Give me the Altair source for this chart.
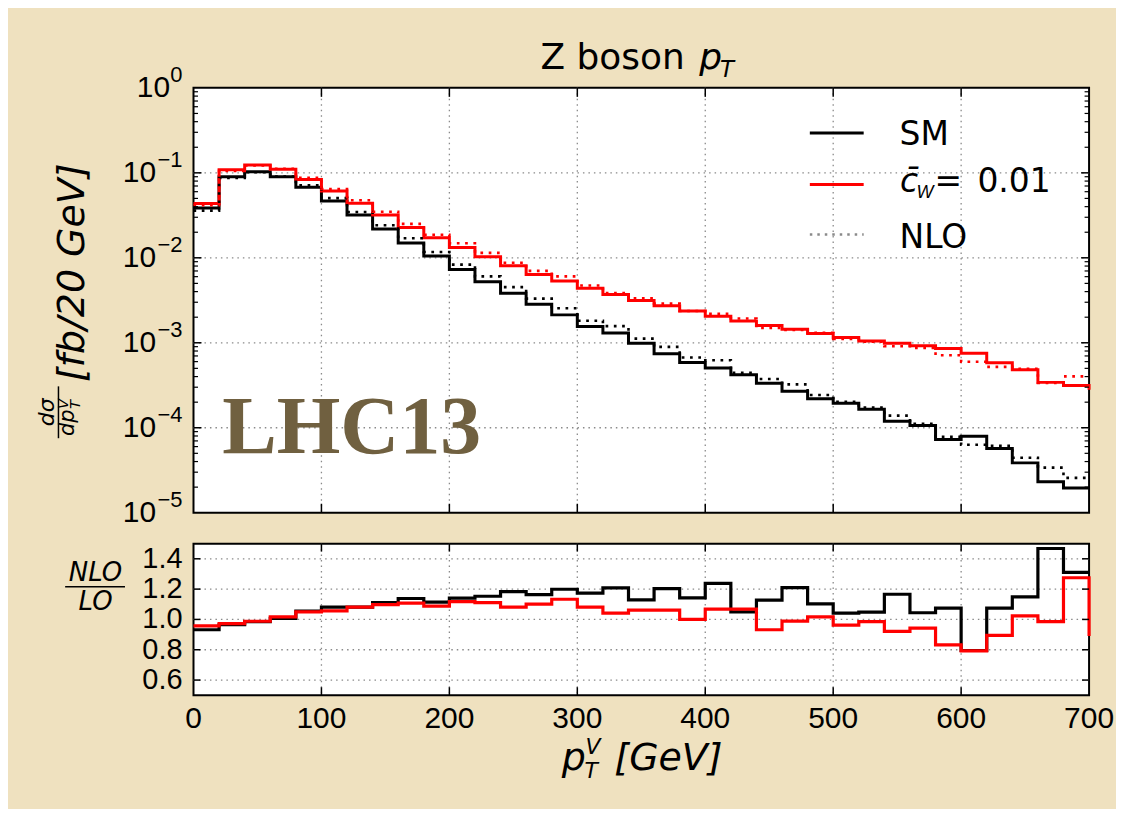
import altair as alt
import pandas as pd

BG = "#efe1bf"
RED = "#ff0000"
GRID = "#8a8a8a"

# bin edges (20 GeV bins, 0-700 GeV)
edges = list(range(0, 720, 20))
x_tick_vals = [0, 100, 200, 300, 400, 500, 600, 700]
x_tick_labels = ["0", "100", "200", "300", "400", "500", "600", "700"]
x_inner_ticks = [100, 200, 300, 400, 500, 600]
decades = [1, 0.1, 0.01, 0.001, 0.0001, 0.00001]
decade_exps = ["0", "\u22121", "\u22122", "\u22123", "\u22124", "\u22125"]
minor_vals = [k * 10.0 ** e for e in range(-5, 0) for k in range(2, 10)]
ratio_ticks = [0.6, 0.8, 1.0, 1.2, 1.4]
ratio_tick_labels = ["0.6", "0.8", "1.0", "1.2", "1.4"]

# dsigma/dpT [fb/20 GeV], LO
sm_lo = [0.0385, 0.090, 0.103, 0.090, 0.0675, 0.0466, 0.0320, 0.0218, 0.0149, 0.0105,
         0.0073, 0.00524, 0.00382, 0.00284, 0.00213, 0.00155, 0.00130, 0.00099, 0.000743, 0.000587,
         0.000504, 0.000421, 0.000333, 0.000268, 0.000220, 0.000194, 0.000165, 0.000119, 0.000106, 0.0000726,
         0.0000794, 0.0000570, 0.0000386, 0.0000231, 0.0000196]
cw_lo = [0.0435, 0.1085, 0.1235, 0.110, 0.0835, 0.0611, 0.0440, 0.0318, 0.0227, 0.0172,
         0.01325, 0.0103, 0.00808, 0.00638, 0.00533, 0.00437, 0.00369, 0.00315, 0.00272, 0.00237,
         0.00205, 0.00181, 0.00160, 0.00144, 0.00129, 0.00115, 0.00105, 0.00099, 0.00092, 0.000857,
         0.000755, 0.000582, 0.000482, 0.000342, 0.000315]
cw_lo_edge = 0.00028
# NLO
sm_nlo = [0.0359, 0.0869, 0.1015, 0.0906, 0.0712, 0.0504, 0.0346, 0.0242, 0.01696, 0.0117,
          0.00832, 0.00604, 0.00452, 0.00331, 0.00255, 0.00182, 0.00157, 0.00112, 0.000894, 0.000670,
          0.000624, 0.000442, 0.000375, 0.000324, 0.000243, 0.000202, 0.000173, 0.000139, 0.000111, 0.0000780,
          0.0000631, 0.0000612, 0.0000444, 0.0000339, 0.0000257]
cw_nlo = [0.0417, 0.1055, 0.1220, 0.1119, 0.0877, 0.0646, 0.0476, 0.0349, 0.0251, 0.0187,
          0.01481, 0.01144, 0.00873, 0.00702, 0.00604, 0.00472, 0.00385, 0.00334, 0.00289, 0.00237,
          0.00219, 0.00193, 0.00149, 0.00142, 0.00131, 0.00111, 0.00103, 0.000912, 0.000868, 0.000713,
          0.000598, 0.000521, 0.000494, 0.000337, 0.000402]
# NLO / LO
ratio_sm = [0.932, 0.965, 0.985, 1.007, 1.055, 1.081, 1.081, 1.111, 1.138, 1.114,
            1.140, 1.153, 1.184, 1.164, 1.199, 1.173, 1.208, 1.129, 1.203, 1.142,
            1.238, 1.050, 1.127, 1.210, 1.103, 1.041, 1.048, 1.166, 1.044, 1.074,
            0.795, 1.074, 1.149, 1.468, 1.310]
ratio_cw = [0.958, 0.972, 0.988, 1.017, 1.050, 1.057, 1.081, 1.098, 1.107, 1.088,
            1.118, 1.111, 1.081, 1.101, 1.133, 1.081, 1.042, 1.061, 1.061, 1.000,
            1.068, 1.068, 0.932, 0.989, 1.017, 0.963, 0.985, 0.921, 0.943, 0.832,
            0.792, 0.895, 1.024, 0.985, 1.275]
ratio_cw_edge = 0.89

W = 898
H_MAIN = 426
H_RATIO = 152

xs = alt.Scale(domain=[0, 700], nice=False, zero=False)
ys_main = alt.Scale(type="log", domain=[1e-5, 1], nice=False)
ys_ratio = alt.Scale(domain=[0.5, 1.5], nice=False, zero=False)


def step_df(vals, last=None):
    ys = list(vals) + [vals[-1] if last is None else last]
    return pd.DataFrame({"x": edges, "y": ys})


def dummy():
    return pd.DataFrame({"a": [0]})


def txt(s, x, y, size, font="DejaVu Sans", style="normal", align="left",
        baseline="alphabetic", color="black", angle=0, weight="normal"):
    return alt.Chart(pd.DataFrame({"t": [s]})).mark_text(
        align=align, baseline=baseline, fontSize=size, font=font, fontStyle=style,
        fontWeight=weight, color=color, angle=angle
    ).encode(x=alt.value(x), y=alt.value(y), text="t:N")


def hline(x1, x2, y, color, width, dash=None):
    kw = dict(color=color, strokeWidth=width)
    if dash is not None:
        kw["strokeDash"] = dash
    return alt.Chart(dummy()).mark_rule(**kw).encode(
        x=alt.value(x1), x2=alt.value(x2), y=alt.value(y))


def vline(x, y1, y2, color, width):
    return alt.Chart(dummy()).mark_rule(color=color, strokeWidth=width).encode(
        x=alt.value(x), y=alt.value(y1), y2=alt.value(y2))


def step_line(df, yscale, color, width, dash=None):
    kw = dict(interpolate="step-after", color=color, strokeWidth=width)
    if dash is not None:
        kw["strokeDash"] = dash
    return alt.Chart(df).mark_line(**kw).encode(
        x=alt.X("x:Q", scale=xs, axis=None),
        y=alt.Y("y:Q", scale=yscale, axis=None),
    )


def ygrid(vals, yscale):
    d = pd.DataFrame({"v": vals})
    return alt.Chart(d).mark_rule(color=GRID, strokeWidth=1.3, strokeDash=[1.5, 4]).encode(
        y=alt.Y("v:Q", scale=yscale, axis=None), x=alt.value(0), x2=alt.value(W))


def xgrid(vals, height):
    d = pd.DataFrame({"v": vals})
    return alt.Chart(d).mark_rule(color=GRID, strokeWidth=1.3, strokeDash=[1.5, 4]).encode(
        x=alt.X("v:Q", scale=xs, axis=None), y=alt.value(0), y2=alt.value(height))


def yticks(vals, yscale, length, width=1.5):
    d = pd.DataFrame({"v": vals})
    left = alt.Chart(d).mark_rule(color="black", strokeWidth=width).encode(
        y=alt.Y("v:Q", scale=yscale, axis=None), x=alt.value(0), x2=alt.value(length))
    right = alt.Chart(d).mark_rule(color="black", strokeWidth=width).encode(
        y=alt.Y("v:Q", scale=yscale, axis=None), x=alt.value(W - length), x2=alt.value(W))
    return [left, right]


def xticks(vals, height, length, width=1.5):
    d = pd.DataFrame({"v": vals})
    top = alt.Chart(d).mark_rule(color="black", strokeWidth=width).encode(
        x=alt.X("v:Q", scale=xs, axis=None), y=alt.value(0), y2=alt.value(length))
    bottom = alt.Chart(d).mark_rule(color="black", strokeWidth=width).encode(
        x=alt.X("v:Q", scale=xs, axis=None), y=alt.value(height - length), y2=alt.value(height))
    return [top, bottom]


# ---------------- main panel ----------------
anchor_tl = alt.Chart(dummy()).mark_rect(color=BG).encode(
    x=alt.value(-184.7), x2=alt.value(-183.5), y=alt.value(-77.7), y2=alt.value(-76.5))

main_layers = [anchor_tl, xgrid(x_inner_ticks, H_MAIN), ygrid(decades[1:-1], ys_main)]
main_layers += [
    step_line(step_df(sm_lo), ys_main, "black", 3),
    step_line(step_df(cw_lo, cw_lo_edge), ys_main, RED, 3),
    step_line(step_df(sm_nlo), ys_main, "black", 2.6, dash=[2.7, 5.6]),
    step_line(step_df(cw_nlo), ys_main, RED, 2.6, dash=[2.7, 5.6]),
]
main_layers += yticks(decades[1:-1], ys_main, 8)
main_layers += yticks(minor_vals, ys_main, 4.5, 1.2)
main_layers += xticks(x_inner_ticks, H_MAIN, 9)

# y tick labels 10^n
lab_df = pd.DataFrame({"v": decades, "e": decade_exps})
main_layers += [
    alt.Chart(lab_df).transform_filter("datum.v >= 1").mark_text(
        align="right", baseline="middle", fontSize=30, font="Liberation Sans", color="black"
    ).encode(y=alt.Y("v:Q", scale=ys_main, axis=None), x=alt.value(-23.5), text=alt.value("10")),
    alt.Chart(lab_df).transform_filter("datum.v < 1").mark_text(
        align="right", baseline="middle", fontSize=30, font="Liberation Sans", color="black"
    ).encode(y=alt.Y("v:Q", scale=ys_main, axis=None), x=alt.value(-37.5), text=alt.value("10")),
    alt.Chart(lab_df).mark_text(
        align="right", baseline="middle", fontSize=22, font="Liberation Sans", color="black", dy=-12.5
    ).encode(y=alt.Y("v:Q", scale=ys_main, axis=None), x=alt.value(-11), text="e:N"),
]

# legend
main_layers += [
    hline(618, 672, 45.3, "black", 3),
    hline(618, 672, 97, RED, 3),
    hline(618, 672, 147, "#8a8a8a", 2.6, dash=[2.5, 5]),
    txt("SM", 708, 57.6, 33),
    txt("c\u0304", 708.5, 104.6, 33, style="italic"),
    txt("W", 725, 110.5, 18, font="Liberation Sans", style="italic"),
    txt("=", 743, 104.6, 33),
    txt("0.01", 786, 104.6, 33),
    txt("NLO", 708, 161, 33),
]
# title
main_layers += [
    txt("Z boson", 348, -19, 36),
    txt("p", 507, -19, 36, style="italic"),
    txt("T", 528, -10.5, 23, style="italic"),
]
# y-axis title (rotated)
main_layers += [
    txt("[fb/20 GeV]", -110, 295, 38, style="italic", angle=270),
    txt("d\u03c3", -139.7, 325.3, 22, style="italic", angle=270, align="center"),
    vline(-135.4, 299.3, 351.3, "black", 1.5),
    txt("dp", -119.5, 349, 21, style="italic", angle=270),
    txt("V", -125.5, 322, 15, style="italic", angle=270),
    txt("T", -113.5, 322, 15, style="italic", angle=270),
]
# LHC13 label
main_layers += [
    txt("LHC13", 28.8, 366, 82, font="Liberation Serif", weight="bold", color="#706040"),
]

main = alt.layer(*main_layers).properties(width=W, height=H_MAIN)

# ---------------- ratio panel ----------------
anchor_br = alt.Chart(dummy()).mark_rect(color=BG).encode(
    x=alt.value(920), x2=alt.value(921.3), y=alt.value(262), y2=alt.value(263.3))

xlab_df = pd.DataFrame({"v": x_tick_vals, "t": x_tick_labels})
ylab_df = pd.DataFrame({"v": ratio_ticks, "t": ratio_tick_labels})

ratio_layers = [anchor_br, xgrid(x_inner_ticks, H_RATIO), ygrid(ratio_ticks, ys_ratio)]
ratio_layers += [
    step_line(step_df(ratio_sm), ys_ratio, "black", 3.2),
    step_line(step_df(ratio_cw, ratio_cw_edge), ys_ratio, RED, 3.2),
]
ratio_layers += yticks(ratio_ticks, ys_ratio, 7)
ratio_layers += xticks(x_inner_ticks, H_RATIO, 8)
ratio_layers += [
    alt.Chart(xlab_df).mark_text(
        align="center", baseline="alphabetic", fontSize=30, font="Liberation Sans", color="black"
    ).encode(x=alt.X("v:Q", scale=xs, axis=None), y=alt.value(184.5), text="t:N"),
    alt.Chart(ylab_df).mark_text(
        align="right", baseline="middle", fontSize=29, font="Liberation Sans", color="black"
    ).encode(y=alt.Y("v:Q", scale=ys_ratio, axis=None), x=alt.value(-11), text="t:N"),
]
ratio_layers += [
    txt("NLO", -98.2, 37.3, 26, style="italic", align="center"),
    hline(-128.7, -68.7, 43.3, "black", 1.6),
    txt("LO", -98.2, 66.3, 26, style="italic", align="center"),
    # x-axis title
    txt("p", 369.3, 227.3, 38, style="italic"),
    txt("V", 393, 211, 22, style="italic"),
    txt("T", 392, 234.5, 22, style="italic"),
    txt("[GeV]", 422, 227.3, 38, style="italic"),
]

ratio = alt.layer(*ratio_layers).properties(width=W, height=H_RATIO)

chart = alt.vconcat(main, ratio, spacing=31, bounds="flush").properties(
    padding=0, background=BG
).configure_view(
    stroke="black", strokeWidth=2, fill="white"
)

chart.save("out.html", embed_options={"renderer": "svg", "actions": False})
